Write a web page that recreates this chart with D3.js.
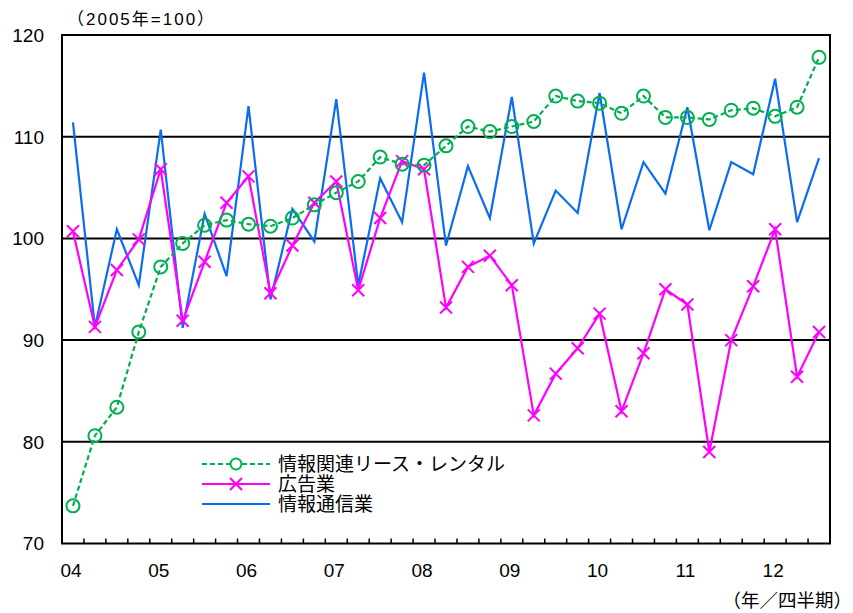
<!DOCTYPE html>
<html><head><meta charset="utf-8">
<script src="https://cdn.jsdelivr.net/npm/d3@7"></script>
<style>
body{margin:0;background:#fff;}
text{font-family:"Liberation Sans","Noto Sans CJK JP",sans-serif;fill:#000;}
</style></head>
<body><svg id="c" width="853" height="613"></svg>
<script>
const years = ["04","05","06","07","08","09","10","11","12"];
const quarters = d3.range(35).map(i => `${years[Math.floor(i/4)]}Q${i%4+1}`);
const leaseRental = [73.7,80.6,83.4,90.8,97.2,99.5,101.3,101.8,101.4,101.2,102.0,103.3,104.5,105.6,108.0,107.3,107.2,109.1,111.0,110.5,111.0,111.5,114.0,113.5,113.3,112.3,114.0,111.9,111.9,111.7,112.6,112.8,112.0,112.9,117.8];
const advertising = [100.7,91.3,96.9,99.9,106.8,91.9,97.7,103.5,106.1,94.6,99.3,103.5,105.6,94.9,102.0,107.6,106.8,93.2,97.2,98.3,95.4,82.6,86.7,89.2,92.6,83.0,88.7,95.0,93.5,79.0,90.0,95.3,100.9,86.4,90.8];
const infoComm = [111.4,91.3,100.9,95.4,110.7,91.2,102.4,96.3,113.0,94.0,102.9,99.7,113.7,95.4,105.9,101.6,116.3,99.3,107.1,102.0,113.9,99.5,104.7,102.5,114.3,100.9,107.5,104.4,112.9,100.8,107.5,106.3,115.7,101.6,107.9];
const yTicks = [70,80,90,100,110,120];
const seriesNames = ["情報関連リース・レンタル","広告業","情報通信業"];

const svg = d3.select("#c");
const L=62,R=830,T=35,B=543.5;
const x = d3.scaleBand().domain(quarters).range([L,R]);
const y = d3.scaleLinear().domain([70,120]).range([B,T]);
const cx = q => x(q)+x.bandwidth()/2;

// gridlines
svg.append("g").selectAll("line").data(yTicks.filter(v=>v>70&&v<120)).join("line")
  .attr("x1",L).attr("x2",R).attr("y1",d=>y(d)).attr("y2",d=>y(d))
  .attr("stroke","#000").attr("stroke-width",2);

// y axis labels
svg.append("g").selectAll("text").data(yTicks).join("text")
  .attr("x",44).attr("y",d=>y(d)).attr("dy","0.36em").attr("text-anchor","end")
  .attr("font-size",19).text(d=>d);

// x ticks (category boundaries, inward)
const bounds = quarters.slice(1).map(q=>x(q));
svg.append("g").selectAll("line").data(bounds).join("line")
  .attr("x1",d=>d).attr("x2",d=>d).attr("y1",B).attr("y2",B-5)
  .attr("stroke","#000").attr("stroke-width",1.5);

// x labels
svg.append("g").selectAll("text").data(years).join("text")
  .attr("x",(d,i)=>cx(quarters[i*4])-2).attr("y",577).attr("text-anchor","middle")
  .attr("font-size",19).text(d=>d);

// frame
svg.append("rect").attr("x",L).attr("y",T).attr("width",R-L).attr("height",B-T)
  .attr("fill","none").attr("stroke","#000").attr("stroke-width",2);

const line = d3.line().x((d,i)=>cx(quarters[i])).y(d=>y(d));
const cBlue="#0A6CF0", cMag="#FF00FF", cGreen="#00B050";

svg.append("path").datum(infoComm).attr("d",line).attr("fill","none").attr("stroke",cBlue).attr("stroke-width",2.2);
svg.append("path").datum(advertising).attr("d",line).attr("fill","none").attr("stroke",cMag).attr("stroke-width",2.2);
svg.append("path").datum(leaseRental).attr("d",line).attr("fill","none").attr("stroke",cGreen).attr("stroke-width",2.2).attr("stroke-dasharray","5,3");

const xm = 6;
const cross = (g,px,py)=>{ g.append("path").attr("d",`M${px-xm},${py-xm}L${px+xm},${py+xm}M${px-xm},${py+xm}L${px+xm},${py-xm}`).attr("stroke",cMag).attr("stroke-width",2).attr("fill","none"); };
const gx = svg.append("g");
advertising.forEach((v,i)=>cross(gx,cx(quarters[i]),y(v)));

svg.append("g").selectAll("circle").data(leaseRental).join("circle")
  .attr("cx",(d,i)=>cx(quarters[i])).attr("cy",d=>y(d)).attr("r",6.5)
  .attr("fill","none").attr("stroke",cGreen).attr("stroke-width",2);

// legend
const lg = svg.append("g");
const rows=[464,484,504];
lg.append("line").attr("x1",202).attr("x2",270).attr("y1",rows[0]).attr("y2",rows[0]).attr("stroke",cGreen).attr("stroke-width",2).attr("stroke-dasharray","5,3");
lg.append("circle").attr("cx",236).attr("cy",rows[0]).attr("r",5.5).attr("fill","#fff").attr("stroke",cGreen).attr("stroke-width",2);
lg.append("line").attr("x1",202).attr("x2",270).attr("y1",rows[1]).attr("y2",rows[1]).attr("stroke",cMag).attr("stroke-width",2);
cross(lg,236,rows[1]);
lg.append("line").attr("x1",202).attr("x2",270).attr("y1",rows[2]).attr("y2",rows[2]).attr("stroke",cBlue).attr("stroke-width",2);
lg.selectAll("text").data(seriesNames).join("text")
  .attr("x",278).attr("y",(d,i)=>rows[i]).attr("dy","0.38em").attr("font-size",19).text(d=>d);

// annotations
svg.append("text").attr("x",67).attr("y",25).attr("font-size",17).attr("letter-spacing",2).text("（2005年=100）");
svg.append("text").attr("x",852).attr("y",607).attr("text-anchor","end").attr("font-size",18.5).text("（年／四半期）");
</script></body></html>
